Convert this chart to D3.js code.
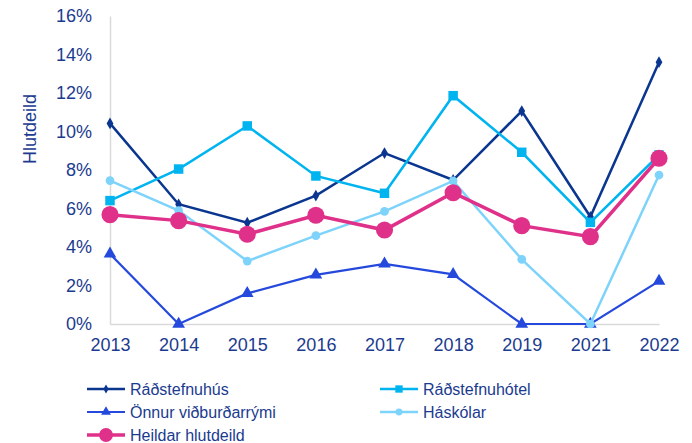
<!DOCTYPE html>
<html>
<head>
<meta charset="utf-8">
<script src="https://cdn.jsdelivr.net/npm/d3@7"></script>
<style>
  body { margin: 0; background: #fff; }
  svg { font-family: "Liberation Sans", Arial, sans-serif; }
</style>
</head>
<body>
<svg width="692" height="443"></svg>
<script>
// data
const years = ["2013", "2014", "2015", "2016", "2017", "2018", "2019", "2021", "2022"];
const radstefnuhus = [10.42, 6.22, 5.26, 6.67, 8.88, 7.48, 11.06, 5.57, 13.6];
const radstefnuhotel = [6.41, 8.05, 10.29, 7.69, 6.79, 11.86, 8.92, 5.28, 8.78];
const onnur = [3.64, 0, 1.59, 2.55, 3.12, 2.58, 0, 0, 2.23];
const haskolar = [7.45, 5.89, 3.27, 4.59, 5.85, 7.43, 3.36, 0, 7.74];
const heildar = [5.68, 5.37, 4.66, 5.65, 4.88, 6.82, 5.11, 4.54, 8.61];
const yTicks = [0, 2, 4, 6, 8, 10, 12, 14, 16];

const series = [
  { name: "Ráðstefnuhús", values: radstefnuhus, color: "#0a3690", width: 2.5, marker: "diamond", size: 40 },
  { name: "Ráðstefnuhótel", values: radstefnuhotel, color: "#00b4f0", width: 2.5, marker: "square", size: 90 },
  { name: "Önnur viðburðarrými", values: onnur, color: "#2449dc", width: 2.2, marker: "triangle", size: 70 },
  { name: "Háskólar", values: haskolar, color: "#7ed3fb", width: 2.5, marker: "circle", size: 60 },
  { name: "Heildar hlutdeild", values: heildar, color: "#e0318a", width: 3.5, marker: "circle", size: 230 }
];

const textColor = "#1b3b8f";
const svg = d3.select("svg");

const x = d3.scalePoint().domain(years).range([110, 659]);
const y = d3.scaleLinear().domain([0, 16]).range([324, 16]);

// axes
const yAxis = d3.axisLeft(y).tickValues(yTicks).tickFormat(d => d + "%").tickSize(0).tickPadding(18);
const gy = svg.append("g").attr("transform", "translate(110,0)").call(yAxis);
gy.select(".domain").attr("stroke", "#d9d9d9").attr("stroke-width", 1.5);
gy.selectAll("text").attr("fill", textColor).attr("font-size", 18);

const xAxis = d3.axisBottom(x).tickSize(0).tickPadding(14);
const gx = svg.append("g").attr("transform", "translate(0,324)").call(xAxis);
gx.select(".domain").attr("stroke", "#d9d9d9").attr("stroke-width", 1.5);
gx.selectAll("text").attr("fill", textColor).attr("font-size", 18);

svg.append("text")
  .attr("transform", "translate(36,129) rotate(-90)")
  .attr("text-anchor", "middle")
  .attr("fill", textColor)
  .attr("font-size", 18)
  .text("Hlutdeild");

const symbolOf = {
  diamond: d3.symbolDiamond,
  square: d3.symbolSquare,
  triangle: d3.symbolTriangle,
  circle: d3.symbolCircle
};

const line = d3.line().x((d, i) => x(years[i])).y(d => y(d));

series.forEach(s => {
  svg.append("path")
    .attr("d", line(s.values))
    .attr("fill", "none")
    .attr("stroke", s.color)
    .attr("stroke-width", s.width)
    .attr("stroke-linejoin", "miter");

  svg.selectAll(null)
    .data(s.values)
    .enter()
    .append("path")
    .attr("d", d3.symbol().type(symbolOf[s.marker]).size(s.size))
    .attr("transform", (d, i) => "translate(" + x(years[i]) + "," + y(d) + ")")
    .attr("fill", s.color);
});

// legend
const legendPos = [
  { lx: 87, ly: 389 },
  { lx: 380, ly: 389 },
  { lx: 87, ly: 412 },
  { lx: 380, ly: 412 },
  { lx: 87, ly: 435 }
];

series.forEach((s, i) => {
  const p = legendPos[i];
  const g = svg.append("g").attr("transform", "translate(" + p.lx + "," + p.ly + ")");
  g.append("line")
    .attr("x1", 0).attr("x2", 38)
    .attr("stroke", s.color)
    .attr("stroke-width", s.width);
  g.append("path")
    .attr("d", d3.symbol().type(symbolOf[s.marker]).size(s.marker === "circle" && s.size > 100 ? 150 : s.size * 0.6))
    .attr("transform", "translate(19,0)")
    .attr("fill", s.color);
  g.append("text")
    .attr("x", 43)
    .attr("dy", "0.35em")
    .attr("fill", textColor)
    .attr("font-size", 16)
    .text(s.name);
});
</script>
</body>
</html>
